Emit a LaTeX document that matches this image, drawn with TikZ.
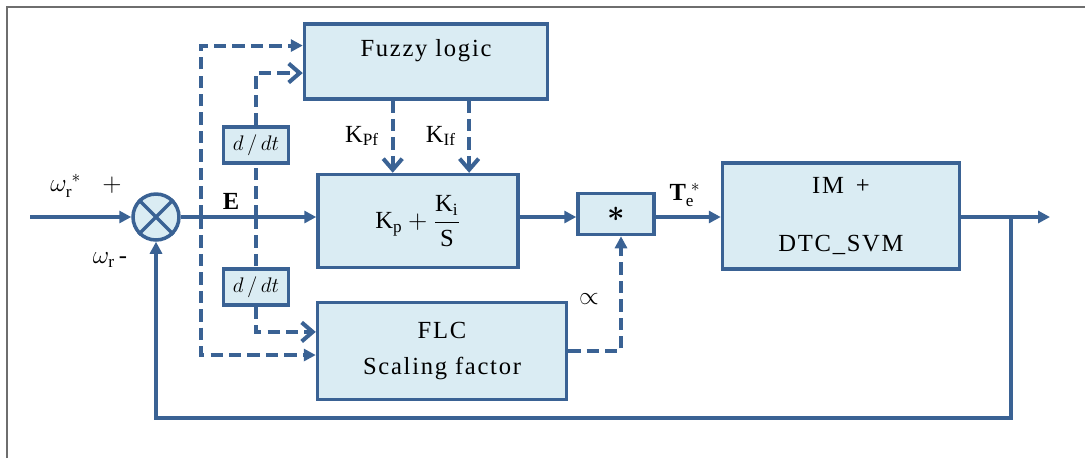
\documentclass[tikz,border=0pt]{standalone}
\usepackage{amsmath}
\usepackage{fontspec}
\setmainfont{Liberation Serif}
\newfontfamily\boxfont[LetterSpace=7]{Liberation Serif}
\usetikzlibrary{arrows.meta,calc,positioning}
\definecolor{dtcblue}{RGB}{58,98,148}
\definecolor{dtcfill}{RGB}{218,236,243}
\definecolor{framegray}{RGB}{110,110,110}

\begin{document}
\begin{tikzpicture}[x=0.02cm, y=-0.02cm,
    blockbox/.style={rectangle, draw=dtcblue, line width=2pt, fill=dtcfill,
        font=\fontsize{14}{20}\selectfont\boxfont, align=center, inner sep=0pt},
    ddtbox/.style={rectangle, draw=dtcblue, line width=1.8pt, fill=dtcfill,
        minimum width=1.3cm, minimum height=0.72cm, inner sep=0pt, font=\large},
    sumnode/.style={circle, draw=dtcblue, line width=2pt, fill=dtcfill,
        minimum size=0.92cm, inner sep=0pt},
    sigline/.style={line width=2.3pt, dtcblue},
    sigarr/.style={sigline, -{Triangle[length=2.4mm,width=2.4mm]}},
    dashline/.style={line width=2.3pt, dtcblue, dash pattern=on 7pt off 3.5pt},
    dasharr/.style={dashline, -{Straight Barb[length=2.2mm,width=3.8mm]}},
    dashtri/.style={dashline, -{Triangle[length=2.4mm,width=2.4mm]}},
    lbl/.style={font=\fontsize{14}{16}\selectfont}
]
    \useasboundingbox (0,0) rectangle (1085,458);
    \draw[framegray, line width=1.1pt] (7,458) -- (7,7) -- (1085,7);

    % blocks
    \node[blockbox, minimum width=4.86cm, minimum height=1.5cm, anchor=north]
        (fuzzy) at (426,22) {\raisebox{0.55cm}{Fuzzy logic}};
    \node[blockbox, minimum width=4cm, minimum height=1.86cm] (pi) at (418,221)
        {$\mathrm{K_p}+\dfrac{\mathrm{K_i}}{\mathrm{S}}$};
    \node[blockbox, minimum width=4.98cm, minimum height=1.94cm] (flc) at (442,351)
        {FLC\\[1pt]Scaling factor};
    \node[blockbox, minimum width=1.52cm, minimum height=0.82cm] (mult) at (616,214)
        {\raisebox{-5pt}{\LARGE$\boldsymbol{*}$}};
    \node[blockbox, minimum width=4.74cm, minimum height=2.12cm] (im) at (841,216)
        {IM\, +\\[13pt]DTC\_SVM};
    \node[sumnode] (sum) at (156,217) {};
    \draw[dtcblue, line width=2pt] (sum.north east) -- (sum.south west)
        (sum.north west) -- (sum.south east);
    \node[ddtbox] (dtu) at (256,145) {$d\,/\,dt$};
    \node[ddtbox] (dtl) at (256,287) {$d\,/\,dt$};

    % junctions
    \coordinate (in) at (30,217);
    \coordinate (eo) at (201,217);
    \coordinate (ei) at (256,217);
    \coordinate (br) at (1011,217);
    \coordinate (out) at (1050,217);
    \coordinate (fb) at (1011,418);
    \coordinate (kpf) at ($(fuzzy.south west)!0.365!(fuzzy.south east)$);
    \coordinate (kif) at ($(fuzzy.south west)!0.675!(fuzzy.south east)$);

    % main path
    \draw[sigarr] (in) -- (sum.west);
    \draw[sigarr] (sum.east) -- (pi.west |- sum);
    \draw[sigarr] (pi.east |- sum) -- (mult.west |- sum);
    \draw[sigarr] (mult.east |- sum) -- (im.west |- sum);
    \draw[sigarr] (im.east |- sum) -- (out);
    \draw[sigarr] (br) -- (fb) -| (sum.south);

    % fuzzy tuning paths
    \draw[dashtri] (eo) |- ($(fuzzy.north west)!0.3!(fuzzy.south west)$);
    \draw[dashtri] (eo) |- ($(flc.north west)!0.54!(flc.south west)$);
    \draw[dashline] (ei) -- (dtu);
    \draw[dasharr] (dtu) |- ($(fuzzy.north west)!0.65!(fuzzy.south west)$);
    \draw[dashline] (ei) -- (dtl);
    \draw[dasharr] (dtl) |- ($(flc.north west)!0.31!(flc.south west)$);
    \draw[dasharr] (kpf) -- (kpf |- pi.north);
    \draw[dasharr] (kif) -- (kif |- pi.north);
    \draw[dashtri] (flc.east) -| ([xshift=0.1cm]mult.south);

    % labels
    \node[lbl] (lwref) at (86,186) {$\omega_{\mathrm{r}}^{\;*}\;\;\; +$};
    \node[lbl] (lwr) at (110,260) {$\omega_{\mathrm{r}}$\,-};
    \node[lbl] (le) at (231,201) {\textbf{E}};
    \node[lbl] (lkpf) at (362,136) {$\mathrm{K_{Pf}}$};
    \node[lbl] (lkif) at (441,136) {$\mathrm{K_{If}}$};
    \node[lbl] (lalpha) at (589,299) {$\propto$};
    \node[lbl] (lte) at (685,195) {$\mathbf{T}_{\mathrm{e}}^{\;*}$};
\end{tikzpicture}
\end{document}
